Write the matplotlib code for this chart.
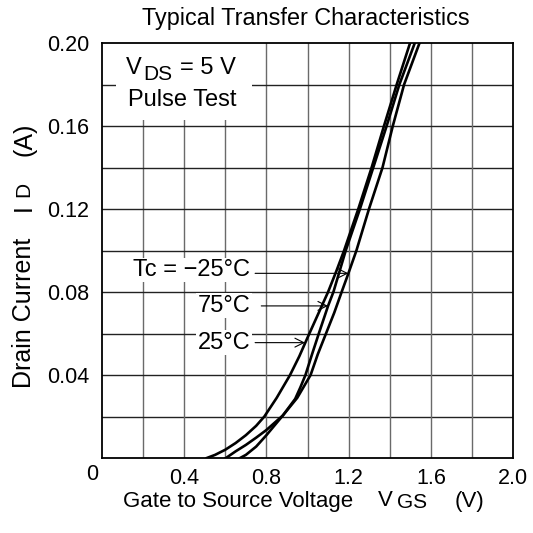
import matplotlib
matplotlib.use("Agg")
import matplotlib.pyplot as plt

plt.rcParams['font.family'] = ['Liberation Sans', 'DejaVu Sans']

# values (VGS in V, ID in A)
vgs_25 = [0.51, 0.55, 0.60, 0.65, 0.70, 0.75, 0.79, 0.85, 0.915, 0.96, 1.0, 1.05, 1.10, 1.14, 1.178, 1.247, 1.312, 1.372, 1.434, 1.499]
id_25 = [0.0, 0.0015, 0.004, 0.0072, 0.011, 0.0155, 0.020, 0.029, 0.040, 0.049, 0.058, 0.069, 0.080, 0.090, 0.100, 0.120, 0.140, 0.160, 0.180, 0.200]

vgs_75 = [0.672, 0.70, 0.75, 0.80, 0.88, 0.94, 0.965, 0.99, 1.022, 1.055, 1.10, 1.126, 1.186, 1.255, 1.320, 1.385, 1.447, 1.522]
id_75 = [0.0, 0.0015, 0.0055, 0.011, 0.0205, 0.0285, 0.034, 0.040, 0.050, 0.060, 0.0733, 0.080, 0.100, 0.120, 0.140, 0.160, 0.180, 0.200]

vgs_m25 = [0.603, 0.65, 0.70, 0.75, 0.80, 0.88, 0.95, 1.015, 1.05, 1.09, 1.13, 1.166, 1.199, 1.238, 1.299, 1.365, 1.415, 1.470, 1.545]
id_m25 = [0.0, 0.0032, 0.0063, 0.0098, 0.0135, 0.0205, 0.029, 0.040, 0.050, 0.060, 0.070, 0.080, 0.089, 0.100, 0.120, 0.140, 0.160, 0.180, 0.200]

x_ticks = [0.4, 0.8, 1.2, 1.6, 2.0]
y_ticks = [0.04, 0.08, 0.12, 0.16, 0.20]

fig = plt.figure(figsize=(5.33, 5.33), dpi=100)
ax = fig.add_axes([0.1914, 0.1407, 0.7711, 0.7786])

ax.set_xlim(0, 2.0)
ax.set_ylim(0, 0.2)

# grid every 0.2 V / 0.02 A
for i in range(1, 10):
    ax.axvline(i * 0.2, color='#6a6a6a', lw=1.0, zorder=1)
    ax.axhline(i * 0.02, color='#222222', lw=1.0, zorder=1)

for xs, ys in [(vgs_25, id_25), (vgs_75, id_75), (vgs_m25, id_m25)]:
    ax.plot(xs, ys, color='black', lw=1.9, zorder=3)

ax.set_xticks(x_ticks)
ax.set_xticklabels(['%.1f' % v for v in x_ticks])
ax.set_yticks(y_ticks)
ax.set_yticklabels(['%.2f' % v for v in y_ticks])
ax.tick_params(length=0, labelsize=15.5)
ax.tick_params(axis='x', pad=7)
ax.tick_params(axis='y', pad=9)
for s in ax.spines.values():
    s.set_linewidth(1.3)
    s.set_zorder(4)

W = 533.0
def px(x, y):
    return x / W, 1 - y / W

fig.text(*px(92, 474), '0', ha='center', va='center', fontsize=15.5)

# axis titles, placed piece by piece as in the reference
fig.text(*px(238, 501), 'Gate to Source Voltage', ha='center', va='center', fontsize=16)
fig.text(*px(385, 500), 'V', ha='center', va='center', fontsize=16)
fig.text(*px(412, 503), 'GS', ha='center', va='center', fontsize=15)
fig.text(*px(470, 501), '(V)', ha='center', va='center', fontsize=16)

fig.text(*px(24, 313), 'Drain Current', ha='center', va='center', rotation=90, fontsize=18)
fig.text(*px(24, 208), 'I', ha='center', va='center', rotation=90, fontsize=18)
fig.text(*px(24, 189), 'D', ha='center', va='center', rotation=90, fontsize=15)
fig.text(*px(24, 139), '(A)', ha='center', va='center', rotation=90, fontsize=18)

fig.text(*px(306, 18), 'Typical Transfer Characteristics', ha='center', va='center', fontsize=16.8)

# condition box
ax.add_patch(plt.Rectangle((0.068, 0.163), 0.66, 0.037, facecolor='white', edgecolor='none', zorder=2))
fig.text(*px(133.5, 68), 'V', ha='center', va='center', fontsize=17, zorder=5)
fig.text(*px(157.5, 75), 'DS', ha='center', va='center', fontsize=15, zorder=5)
fig.text(*px(208, 68), '= 5 V', ha='center', va='center', fontsize=17, zorder=5)
fig.text(*px(182, 100), 'Pulse Test', ha='center', va='center', fontsize=17, zorder=5)

bb = dict(facecolor='white', edgecolor='none', pad=1.0)
ax.text(0.722, 0.0906, 'Tc = \u221225\u00b0C', ha='right', va='center', fontsize=17, bbox=bb, zorder=3)
ax.text(0.722, 0.0733, '75\u00b0C', ha='right', va='center', fontsize=17, bbox=bb, zorder=3)
ax.text(0.722, 0.0556, '25\u00b0C', ha='right', va='center', fontsize=17, bbox=bb, zorder=3)

arr = dict(arrowstyle='->', color='black', lw=0.8, mutation_scale=16, shrinkA=0, shrinkB=0)
ax.annotate('', xy=(1.199, 0.089), xytext=(0.745, 0.089), arrowprops=arr, zorder=3)
ax.annotate('', xy=(1.100, 0.0733), xytext=(0.775, 0.0733), arrowprops=arr, zorder=3)
ax.annotate('', xy=(0.988, 0.0556), xytext=(0.745, 0.0556), arrowprops=arr, zorder=3)

fig.savefig('out.png', dpi=100)
